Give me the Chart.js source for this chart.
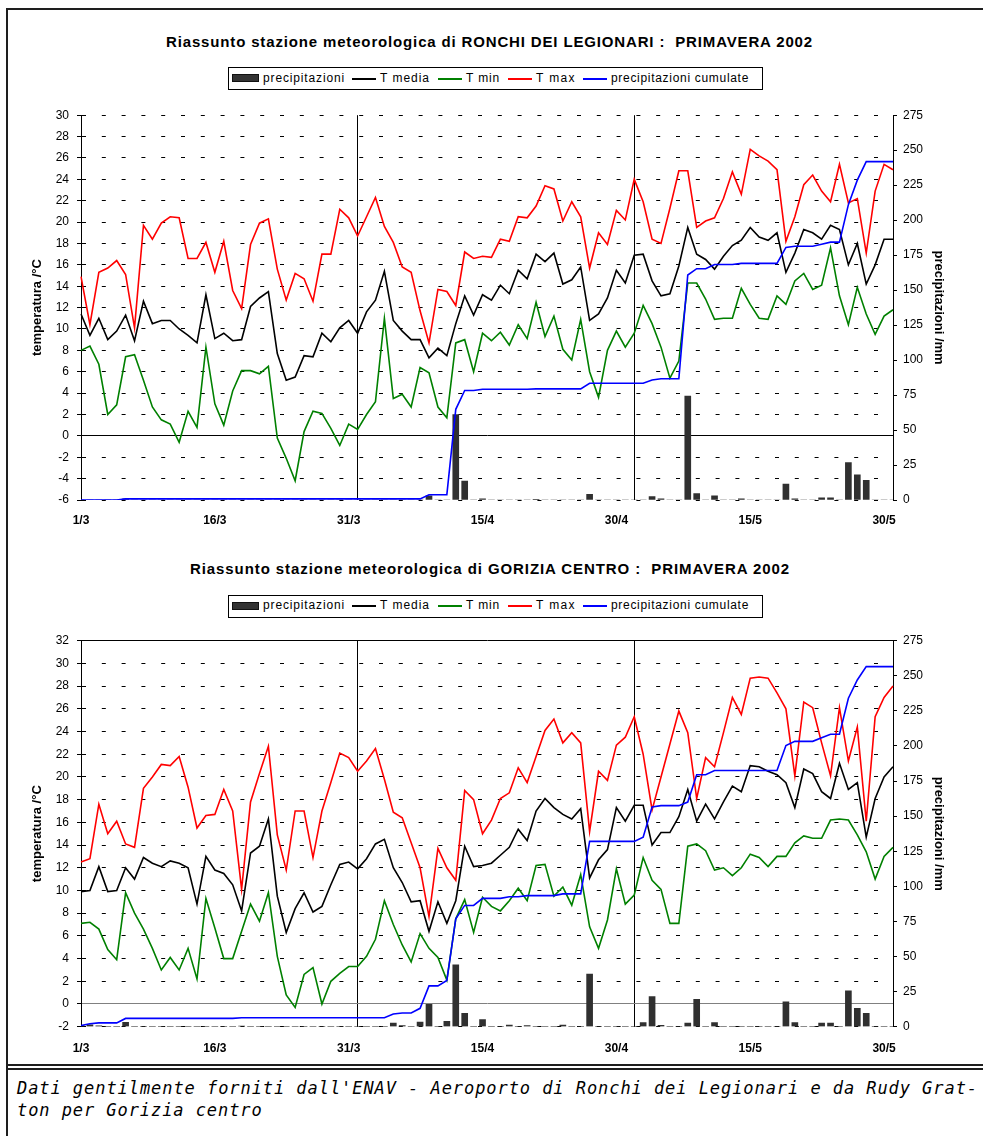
<!DOCTYPE html>
<html lang="it">
<head>
<meta charset="utf-8">
<title>Riassunto stazioni meteorologiche – Primavera 2002</title>
<script src="https://cdn.jsdelivr.net/npm/chart.js@4.4.1/dist/chart.umd.min.js"></script>
<style>
  html, body { margin: 0; padding: 0; background: #fff; }
  body { position: relative; width: 983px; height: 1136px; overflow: hidden;
         font-family: "Liberation Sans", Arial, sans-serif; color: #000; }
  .rule { position: absolute; background: #1e1e1e; }
  .t { position: absolute; white-space: pre; line-height: 1; }
  .title { font-size: 15px; font-weight: bold; }
  .leg { font-size: 12px; }
  .box { position: absolute; left: 228px; width: 535px; height: 23px; border: 1px solid #000;
         box-sizing: border-box; background: #fff; }
  .sw { position: absolute; height: 2px; }
  .swr { position: absolute; width: 27px; height: 8px; background: #333; box-shadow: inset 0 0 0 1px #111; }
  .foot { font-family: "DejaVu Sans Mono", monospace; font-style: italic; font-size: 17px; }
  canvas { position: absolute; left: 0; }
</style>
</head>
<body>

<!-- page frame -->
<div class="rule" style="left:6px;top:8px;width:977px;height:2px"></div>
<div class="rule" style="left:6px;top:8px;width:2px;height:1128px"></div>
<div class="rule" style="left:6px;top:1064px;width:977px;height:2px"></div>
<div class="rule" style="left:6px;top:1068px;width:977px;height:1.5px"></div>

<div class="t title" style="left:166px;top:34px" data-w="647">Riassunto stazione meteorologica di RONCHI DEI LEGIONARI :  PRIMAVERA 2002</div>
<div class="t title" style="left:190px;top:560.7px" data-w="600">Riassunto stazione meteorologica di GORIZIA CENTRO :  PRIMAVERA 2002</div>

<div id="legenda1"></div>
<div id="legenda2"></div>

<canvas id="ronchi" width="983" height="440" style="top:100px"></canvas>
<canvas id="gorizia" width="983" height="440" style="top:620px"></canvas>

<div class="t foot" style="left:17px;top:1080.3px" data-w="961">Dati gentilmente forniti dall'ENAV - Aeroporto di Ronchi dei Legionari e da Rudy Grat-</div>
<div class="t foot" style="left:17px;top:1101.6px" data-w="245.7">ton per Gorizia centro</div>

<script>
// ---- categories: every day of spring 2002 (1 March – 31 May) ----
const mesi = [['3', 31], ['4', 30], ['5', 31]];
const giorni = [];
mesi.forEach(([m, n]) => { for (let d = 1; d <= n; d++) giorni.push(d + '/' + m); });

// labelled days on the horizontal axis and days carrying a vertical divider
const etichette = ['1/3', '16/3', '31/3', '15/4', '30/4', '15/5', '30/5'];
const separatori = ['1/4', '2/5'];

// ---- Ronchi dei Legionari (°C, mm) ----
const ronchiTmax = [
  14.9,10.4,15.3,15.7,16.4,15.1,10.1,19.7,18.4,19.9,
  20.5,20.4,16.6,16.6,18.1,15.3,18.2,13.6,11.9,17.9,
  19.9,20.3,15.6,12.7,15.2,14.7,12.6,17.0,17.0,21.2,
  20.4,18.7,20.5,22.3,19.6,18.1,15.8,15.3,11.7,8.7,
  13.7,13.5,12.2,17.2,16.6,16.8,16.7,18.4,18.2,20.5,
  20.4,21.5,23.4,23.1,20.1,21.9,20.5,15.7,19.0,17.9,
  21.1,20.2,24.0,21.9,18.4,18.0,21.3,24.8,24.8,19.5,
  20.1,20.4,22.2,24.7,22.6,26.8,26.2,25.7,24.9,18.2,
  20.5,23.5,24.4,22.9,21.9,25.4,21.8,22.2,17.1,22.9,
  25.4,24.9];
const ronchiTmed = [
  11.4,9.4,11.0,9.0,9.8,11.3,8.9,12.6,10.5,10.8,
  10.8,10.0,9.4,8.7,13.2,9.1,9.6,8.9,9.0,12.1,
  12.9,13.5,7.7,5.2,5.5,7.5,7.4,9.6,8.8,10.1,
  10.8,9.6,11.6,12.7,15.4,10.8,9.8,9.0,9.0,7.3,
  8.2,7.5,10.5,13.1,11.3,13.2,12.7,14.1,13.3,15.5,
  14.7,17.0,16.3,17.1,14.2,14.6,15.8,10.8,11.4,12.9,
  15.5,14.3,16.9,17.0,14.5,13.1,13.3,15.9,19.5,17.0,
  16.5,15.6,16.8,17.8,18.3,19.5,18.6,18.3,19.0,15.3,
  17.1,19.3,19.0,18.4,19.7,19.3,16.0,18.0,14.2,16.0,
  18.4,18.4];
const ronchiTmin = [
  8.0,8.4,6.7,2.0,2.9,7.4,7.6,5.2,2.7,1.5,
  1.1,-0.6,2.3,0.8,8.3,3.0,1.0,4.2,6.1,6.1,
  5.8,6.5,-0.2,-2.1,-4.2,0.4,2.3,2.1,0.7,-0.9,
  1.1,0.6,2.0,3.2,11.0,3.5,3.9,2.7,6.4,5.9,
  2.7,1.7,8.7,9.0,6.0,9.6,8.9,9.7,8.5,10.4,
  9.1,12.5,9.3,11.2,8.1,7.1,10.9,6.0,3.6,8.0,
  9.8,8.3,9.6,12.2,10.5,8.3,5.4,7.0,14.3,14.3,
  12.8,10.9,11.0,11.0,13.8,12.3,11.0,10.9,13.1,12.3,
  14.5,15.2,13.7,14.1,17.6,13.1,10.4,13.9,11.4,9.5,
  11.2,11.8];
const ronchiPioggia = [
  0,0,0,0,0,0.8,0,0,0,0,
  0,0,0,0,0,0,0,0,0,0,
  0,0,0,0,0,0,0,0,0,0,
  0,0,0,0,0,0,0,0,0,3.0,
  0,0,61.0,13.5,0,0.8,0,0,0,0,
  0,0.3,0,0,0,0,0,4.0,0,0,
  0,0,0,0,2.4,0.8,0,0,74.2,4.5,
  0,3.0,0,0,0.8,0,0,0,0,11.4,
  0.8,0,0,1.5,1.5,0,26.8,18.0,14.0,0,
  0,0];
const ronchiCumulata = [
  0,0,0,0,0,0.8,0.8,0.8,0.8,0.8,
  0.8,0.8,0.8,0.8,0.8,0.8,0.8,0.8,0.8,0.8,
  0.8,0.8,0.8,0.8,0.8,0.8,0.8,0.8,0.8,0.8,
  0.8,0.8,0.8,0.8,0.8,0.8,0.8,0.8,0.8,3.8,
  3.8,3.8,64.8,78.3,78.3,79.1,79.1,79.1,79.1,79.1,
  79.1,79.4,79.4,79.4,79.4,79.4,79.4,83.4,83.4,83.4,
  83.4,83.4,83.4,83.4,85.8,86.6,86.6,86.6,160.8,165.3,
  165.3,168.3,168.3,168.3,169.1,169.1,169.1,169.1,169.1,180.5,
  181.3,181.3,181.3,182.8,184.3,184.3,211.1,228.6,241.8,241.8,
  241.8,241.8];

// ---- Gorizia centro (°C, mm) ----
const goriziaTmax = [
  12.5,12.8,17.6,15.0,16.1,14.1,13.8,19.0,20.0,21.1,
  21.0,21.8,19.1,15.5,16.6,16.7,18.9,17.0,10.1,17.8,
  20.3,22.7,14.9,11.8,17.0,17.0,12.9,17.0,19.5,22.1,
  21.7,20.5,21.4,22.5,19.8,16.9,16.4,14.2,12.0,7.7,
  13.7,12.0,10.9,18.8,18.0,15.0,16.2,18.1,18.6,20.8,
  19.5,21.8,24.1,25.1,23.0,23.9,23.0,15.2,20.5,19.7,
  22.8,23.5,25.3,22.0,17.1,20.0,22.9,25.8,23.9,18.1,
  21.7,20.9,23.9,27.0,25.5,28.7,28.8,28.7,27.4,26.0,
  20.1,26.6,26.1,23.0,20.1,26.1,21.4,24.4,16.1,25.3,
  27.0,28.0];
const goriziaTmed = [
  9.9,10.0,12.1,9.9,10.0,12.0,11.0,12.9,12.4,12.1,
  12.6,12.4,12.0,8.8,13.0,11.8,11.5,10.5,8.2,13.3,
  13.9,16.3,9.5,6.3,8.4,9.8,8.1,8.6,10.5,12.3,
  12.5,11.9,12.8,14.1,14.5,12.0,10.7,9.0,9.1,6.4,
  9.0,7.1,9.1,13.9,12.1,12.2,12.4,13.1,13.8,15.4,
  14.4,17.0,18.1,17.3,16.7,16.3,17.2,11.1,12.7,13.6,
  17.3,16.1,17.5,17.5,14.0,15.1,15.1,16.5,18.9,16.1,
  17.6,16.3,17.8,19.2,18.7,21.0,20.9,20.5,20.2,19.5,
  17.3,20.7,20.3,18.7,18.1,21.2,18.9,19.5,14.7,18.1,
  20.0,20.9];
const goriziaTmin = [
  7.1,7.2,6.6,4.8,3.9,9.8,8.0,6.6,4.9,3.0,
  4.1,3.0,4.9,2.2,9.3,6.7,4.0,4.0,6.4,8.8,
  7.3,9.8,4.2,0.8,-0.3,2.6,3.2,0.0,2.0,2.7,
  3.3,3.3,4.2,5.7,9.1,7.0,5.2,3.7,6.2,4.9,
  4.1,2.1,7.5,9.2,6.3,9.4,8.6,8.2,9.1,10.2,
  9.1,12.2,12.3,9.5,10.3,8.7,11.4,6.8,4.9,7.4,
  11.9,8.8,9.6,12.9,10.9,10.1,7.1,7.1,13.9,14.1,
  13.5,11.8,12.0,11.3,12.0,13.2,12.9,12.1,13.0,13.0,
  14.2,14.8,14.6,14.6,16.2,16.3,16.2,14.9,13.4,11.0,
  13.0,13.8];
const goriziaPioggia = [
  0.8,1.3,0.6,0,0,3.2,0,0,0,0,
  0,0,0,0,0,0,0,0,0.5,0,
  0,0,0,0,0,0,0,0,0,0,
  0,0,0,0,0,2.6,0.8,0,3.3,16.0,
  0,3.8,44.0,9.5,0,5.0,0,0,1.2,0,
  0.8,0,0,0,1.2,0,0,37.4,0,0,
  0,0,0,3.0,21.5,1.0,0,0,2.5,19.5,
  0,3.0,0,0,0,0,0,0,0,17.8,
  3.0,0,0,2.5,2.6,0,25.6,13.0,9.5,0,
  0,0];
const goriziaCumulata = [
  0.8,2.1,2.7,2.7,2.7,5.9,5.9,5.9,5.9,5.9,
  5.9,5.9,5.9,5.9,5.9,5.9,5.9,5.9,6.4,6.4,
  6.4,6.4,6.4,6.4,6.4,6.4,6.4,6.4,6.4,6.4,
  6.4,6.4,6.4,6.4,6.4,9.0,9.8,9.8,13.1,29.1,
  29.1,32.9,76.9,86.4,86.4,91.4,91.4,91.4,92.6,92.6,
  93.4,93.4,93.4,93.4,94.6,94.6,94.6,132.0,132.0,132.0,
  132.0,132.0,132.0,135.0,156.5,157.5,157.5,157.5,160.0,179.5,
  179.5,182.5,182.5,182.5,182.5,182.5,182.5,182.5,182.5,200.3,
  203.3,203.3,203.3,205.8,208.4,208.4,234.0,247.0,256.5,256.5,
  256.5,256.5];

// ---- series styling ----
const COL = { media: '#000000', min: '#008000', max: '#ff0000', cumulata: '#0000ff', pioggia: '#303030' };

// ---- legend boxes (HTML) ----
const voci = [
  { label: 'precipitazioni', kind: 'rect', color: COL.pioggia, sx: 232, sw: 27, tx: 263, tw: 82 },
  { label: 'T media', kind: 'line', color: COL.media, sx: 352, sw: 24, tx: 380, tw: 50 },
  { label: 'T min', kind: 'line', color: COL.min, sx: 438, sw: 24, tx: 466, tw: 34 },
  { label: 'T max', kind: 'line', color: COL.max, sx: 508, sw: 24, tx: 536, tw: 40 },
  { label: 'precipitazioni cumulate', kind: 'line', color: COL.cumulata, sx: 583, sw: 24, tx: 611, tw: 138 }
];
function legenda(holderId, top) {
  const h = document.getElementById(holderId);
  let html = `<div class="box" style="top:${top}px"></div>`;
  voci.forEach(v => {
    if (v.kind === 'rect') {
      html += `<div class="swr" style="left:${v.sx}px;top:${top + 7}px;width:${v.sw}px"></div>`;
    } else {
      html += `<div class="sw" style="left:${v.sx}px;top:${top + 10.5}px;width:${v.sw}px;background:${v.color}"></div>`;
    }
    html += `<div class="t leg" style="left:${v.tx}px;top:${top + 4.5}px" data-w="${v.tw}">${v.label}</div>`;
  });
  h.innerHTML = html;
}
legenda('legenda1', 67);
legenda('legenda2', 594.5);

// ---- charts ----
Chart.defaults.font.family = "'Liberation Sans', Arial, sans-serif";
Chart.defaults.color = '#000';

function grafico(id, s) {
  const trattino = [4, 15.8];
  return new Chart(document.getElementById(id), {
    type: 'line',
    data: {
      labels: giorni,
      datasets: [
        { type: 'bar', label: 'precipitazioni', data: s.pioggia, yAxisID: 'yP',
          backgroundColor: COL.pioggia, borderWidth: 0, barThickness: 6, order: 9 },
        { label: 'T min', data: s.tmin, yAxisID: 'yT', borderColor: COL.min, order: 4 },
        { label: 'T max', data: s.tmax, yAxisID: 'yT', borderColor: COL.max, order: 3 },
        { label: 'T media', data: s.tmed, yAxisID: 'yT', borderColor: COL.media, order: 2 },
        { label: 'precipitazioni cumulate', data: s.cumulata, yAxisID: 'yP', borderColor: COL.cumulata, order: 1 }
      ]
    },
    options: {
      responsive: false,
      animation: false,
      events: [],
      devicePixelRatio: 1,
      layout: { padding: { top: s.padTop, left: 0, right: 0, bottom: 0 } },
      plugins: { legend: { display: false }, tooltip: { enabled: false }, title: { display: false } },
      elements: {
        line: { borderWidth: 1.6, tension: 0, fill: false },
        point: { radius: 0, hoverRadius: 0 }
      },
      scales: {
        x: {
          type: 'category',
          offset: false,
          grid: {
            offset: false, drawTicks: false, lineWidth: 1,
            color: c => separatori.includes(giorni[c.index]) ? '#000' : 'rgba(0,0,0,0)'
          },
          border: { display: false },
          ticks: {
            autoSkip: false, maxRotation: 0, minRotation: 0, padding: s.xPad,
            font: { size: 12, weight: 'bold' },
            callback: (v, i) => etichette.includes(giorni[i]) ? giorni[i] : ''
          },
          afterFit: sc => { sc.height = s.xH; }
        },
        yT: {
          type: 'linear', position: 'left', min: s.tLo, max: s.tHi,
          ticks: { stepSize: 2, padding: 8, font: { size: 12 } },
          grid: {
            lineWidth: 1, tickLength: 4, tickColor: '#000',
            color: c => (c.tick && c.tick.value === 0) ? s.zero : '#000'
          },
          border: {
            display: true, color: '#000', width: 1,
            dash: c => {
              const v = c.tick ? c.tick.value : null;
              if (v === 0 || (s.topSolid && v === s.tHi)) return [];
              return trattino;
            }
          },
          title: { display: true, text: 'temperatura /°C', font: { size: 13, weight: 'bold' },
                   padding: { top: 29.7, bottom: 0 } },
          afterFit: sc => { sc.width = 81; }
        },
        yP: {
          type: 'linear', position: 'right', min: 0, max: 275,
          ticks: { stepSize: 25, padding: 6, font: { size: 12 } },
          grid: { drawOnChartArea: false, tickLength: 4, tickColor: '#000' },
          border: { display: true, color: '#000', width: 1 },
          title: { display: true, text: 'precipitazioni /mm', font: { size: 13, weight: 'bold' },
                   padding: { top: 36.2, bottom: 0 } },
          afterFit: sc => { sc.width = 90; }
        }
      }
    }
  });
}

grafico('ronchi', {
  tmax: ronchiTmax, tmed: ronchiTmed, tmin: ronchiTmin,
  pioggia: ronchiPioggia, cumulata: ronchiCumulata,
  tLo: -6, tHi: 30, zero: '#000', topSolid: false,
  padTop: 13.3, xH: 40, xPad: 13.8
});
grafico('gorizia', {
  tmax: goriziaTmax, tmed: goriziaTmed, tmin: goriziaTmin,
  pioggia: goriziaPioggia, cumulata: goriziaCumulata,
  tLo: -2, tHi: 32, zero: '#808080', topSolid: true,
  padTop: 20.7, xH: 33.3, xPad: 14.5
});

// ---- stretch text runs to their measured widths with letter spacing ----
function adatta() {
  document.querySelectorAll('[data-w]').forEach(el => {
    el.style.letterSpacing = '0px';
    const w = el.getBoundingClientRect().width;
    const n = el.textContent.length;
    el.style.letterSpacing = ((+el.dataset.w - w) / n) + 'px';
  });
}
adatta();
if (document.fonts && document.fonts.ready) document.fonts.ready.then(adatta);
</script>
</body>
</html>
